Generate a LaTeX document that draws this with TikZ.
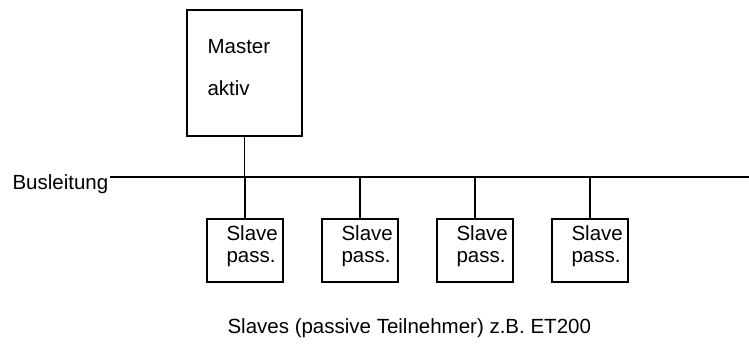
\documentclass[tikz,border=0pt]{standalone}
\usepackage{fontspec}
\setmainfont{Liberation Sans}
\begin{document}
\begin{tikzpicture}[x=1pt,y=-1pt,line width=1.1pt,
  box/.style={draw,inner sep=0pt},
  txt/.style={inner sep=0pt,font=\fontsize{20.5}{22}\selectfont}]
\useasboundingbox (0,0) rectangle (749,349);

% master station
\node[box,minimum width=115,minimum height=126] (master) at (244.5,73) {};
\node[txt,anchor=west] (mastername) at (207,47) {Master};
\node[txt,anchor=west] (mastermode) at (207,88) {aktiv};

% bus line
\node[txt,anchor=west] (buslabel) at (12,184) {Busleitung};
\coordinate (busL) at (110,177);
\coordinate (busR) at (749,177);
\draw (busL) -- (busR);

% slaves
\foreach \i/\x in {1/245,2/360,3/475,4/590} {
  \node[box,minimum width=76,minimum height=63] (slave\i) at (\x,250.5) {};
  \node[txt,anchor=north west,align=left] (slavetxt\i) at (\x-19,225) {Slave\\pass.};
  \draw (slave\i.north) -- (slave\i.north |- busL);
}
\draw (master.south) -- (master.south |- busL);

\node[txt,anchor=west] (caption) at (227,328) {Slaves (passive Teilnehmer) z.B. ET200};
\end{tikzpicture}
\end{document}
